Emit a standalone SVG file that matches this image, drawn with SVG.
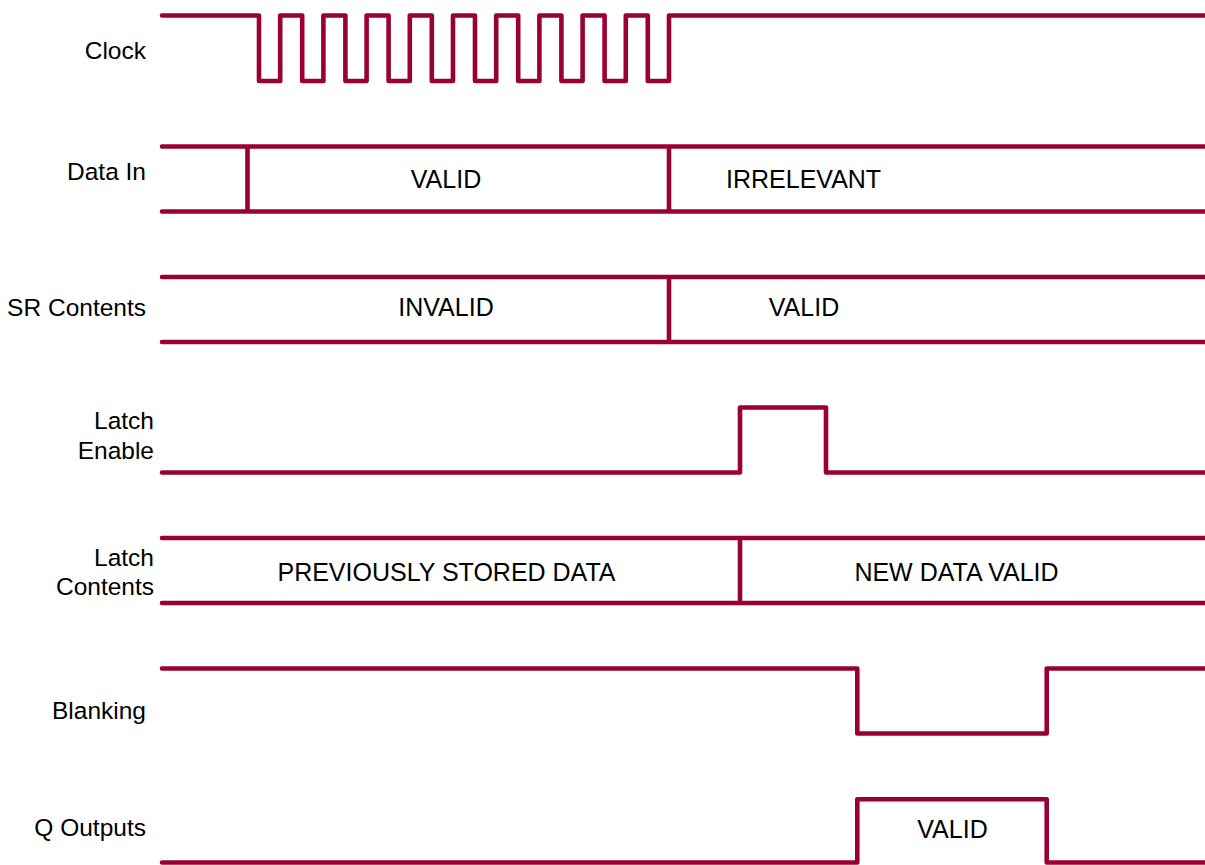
<svg xmlns="http://www.w3.org/2000/svg" width="1205" height="865" viewBox="0 0 1205 865">
<style>
.w{fill:none;stroke:#990033;stroke-width:4.6;stroke-linejoin:round;stroke-linecap:round}
text{font-family:"Liberation Sans",Arial,sans-serif;font-size:24.5px;fill:#000}
.v{font-size:25px}
.r{text-anchor:end}
.m{text-anchor:middle}
</style>
<rect width="1205" height="865" fill="#fff"/>
<g id="clock">
<text class="r" x="146" y="59">Clock</text>
<path class="w" d="M162,15.5 H259 V81 H280.2 V15.5 H302.2 V81 H323.4 V15.5 H345.4 V81 H366.6 V15.5 H388.6 V81 H409.8 V15.5 H431.8 V81 H453 V15.5 H475 V81 H496.2 V15.5 H518.2 V81 H539.4 V15.5 H561.4 V81 H582.6 V15.5 H604.6 V81 H625.8 V15.5 H647.8 V81 H669 V15.5 H1210"/>
</g>
<g id="data-in">
<text class="r" x="146" y="179.5">Data In</text>
<path class="w" d="M162,146.5 H1210 M162,211.5 H1210 M247.5,146.5 V211.5 M669,146.5 V211.5"/>
<text class="m v" x="446" y="188">VALID</text>
<text class="v" x="726" y="188">IRRELEVANT</text>
</g>
<g id="sr-contents">
<text class="r" x="146" y="315.5">SR Contents</text>
<path class="w" d="M162,277 H1210 M162,342 H1210 M669,277 V342"/>
<text class="m v" x="446" y="315.5">INVALID</text>
<text class="m v" x="804" y="315.5">VALID</text>
</g>
<g id="latch-enable">
<text class="r" x="154" y="429">Latch</text>
<text class="r" x="154" y="459">Enable</text>
<path class="w" d="M162,472.5 H740 V407.5 H826 V472.5 H1210"/>
</g>
<g id="latch-contents">
<text class="r" x="154" y="565.5">Latch</text>
<text class="r" x="154" y="595">Contents</text>
<path class="w" d="M162,538 H1210 M162,603 H1210 M740,538 V603"/>
<text class="m v" x="446.5" y="581">PREVIOUSLY STORED DATA</text>
<text class="m v" x="956.5" y="581">NEW DATA VALID</text>
</g>
<g id="blanking">
<text class="r" x="146" y="719">Blanking</text>
<path class="w" d="M162,668.5 H857.3 V733.5 H1046.7 V668.5 H1210"/>
</g>
<g id="q-outputs">
<text class="r" x="146" y="836">Q Outputs</text>
<path class="w" d="M162,862.5 H857.3 V799.3 H1046.7 V862.5 H1210"/>
<text class="m v" x="952.5" y="838">VALID</text>
</g>
</svg>
